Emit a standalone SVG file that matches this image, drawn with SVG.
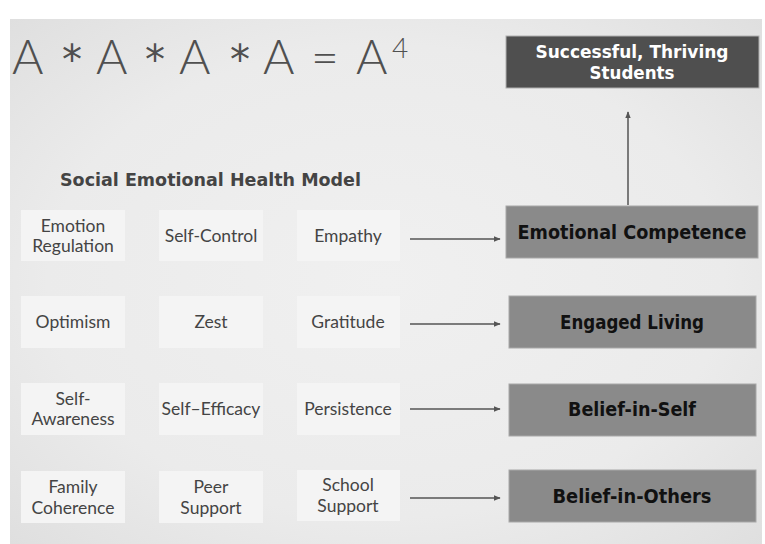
<svg xmlns="http://www.w3.org/2000/svg" width="765" height="544" viewBox="0 0 765 544">
  <defs>
    <radialGradient id="bg" cx="0.5" cy="0.5" r="0.75">
      <stop offset="0" stop-color="#f0f0f0"/>
      <stop offset="0.6" stop-color="#ebebeb"/>
      <stop offset="1" stop-color="#dddddd"/>
    </radialGradient>
    <marker id="head" viewBox="0 0 10 10" refX="9" refY="5" markerWidth="7" markerHeight="7" orient="auto" markerUnits="userSpaceOnUse">
      <path d="M0,1 L10,5 L0,9 Z" fill="#555555"/>
    </marker>
    <style>
      .trait { fill: #f4f4f4; }
      .trait-text { font-family: Lato, "Open Sans", sans-serif; font-size: 17.5px; fill: #444444; text-anchor: middle; }
      .outcome { fill: #8a8a8a; stroke: #a8a8a8; stroke-width: 1; }
      .outcome-text { font-family: "DejaVu Sans", sans-serif; font-weight: bold; font-size: 19px; fill: #111111; text-anchor: middle; }
      .goal { fill: #4f4f4f; stroke: #b0b0b0; stroke-width: 1; }
      .goal-text { font-family: "DejaVu Sans", sans-serif; font-weight: bold; font-size: 18px; fill: #ffffff; text-anchor: middle; }
      .title { font-family: "DejaVu Sans", sans-serif; font-weight: bold; font-size: 17px; fill: #444444; }
      .equation { font-family: Lato, "Open Sans", sans-serif; font-weight: 300; font-size: 48px; fill: #505050; }
      .star { font-family: "DejaVu Sans", sans-serif; font-size: 40px; fill: #505050; }
      .link { stroke: #555555; stroke-width: 1.5; fill: none; marker-end: url(#head); }
    </style>
  </defs>

  <!-- slide background -->
  <rect x="0" y="0" width="765" height="544" fill="#ffffff"/>
  <rect x="10" y="19" width="752" height="525" fill="url(#bg)"/>

  <!-- heading formula -->
  <text class="equation" y="74">
    <tspan x="12">A</tspan><tspan x="96">A</tspan><tspan x="179">A</tspan><tspan x="263">A</tspan><tspan x="311">=</tspan><tspan x="356">A</tspan><tspan x="392" dy="-16" font-size="28">4</tspan>
  </text>
  <text class="star" y="74"><tspan x="62">*</tspan><tspan x="145">*</tspan><tspan x="230">*</tspan></text>

  <text class="title" x="60" y="186" textLength="301" lengthAdjust="spacingAndGlyphs">Social Emotional Health Model</text>

  <!-- goal -->
  <g id="successful-thriving-students">
    <rect class="goal" x="506" y="36" width="253" height="52"/>
    <text class="goal-text" x="632" y="58" textLength="193" lengthAdjust="spacingAndGlyphs">Successful, Thriving</text>
    <text class="goal-text" x="632" y="79" textLength="85" lengthAdjust="spacingAndGlyphs">Students</text>
  </g>

  <!-- row 1 -->
  <g id="emotion-regulation">
    <rect class="trait" x="21" y="210" width="104" height="51"/>
    <text class="trait-text" x="73" y="232">Emotion</text>
    <text class="trait-text" x="73" y="252">Regulation</text>
  </g>
  <g id="self-control">
    <rect class="trait" x="159" y="210" width="104" height="51"/>
    <text class="trait-text" x="211" y="242">Self-Control</text>
  </g>
  <g id="empathy">
    <rect class="trait" x="297" y="210" width="103" height="51"/>
    <text class="trait-text" x="348" y="242">Empathy</text>
  </g>
  <g id="emotional-competence">
    <rect class="outcome" x="506" y="206" width="252" height="52"/>
    <text class="outcome-text" x="632" y="239" textLength="229" lengthAdjust="spacingAndGlyphs">Emotional Competence</text>
  </g>

  <!-- row 2 -->
  <g id="optimism">
    <rect class="trait" x="21" y="296" width="104" height="52"/>
    <text class="trait-text" x="73" y="328">Optimism</text>
  </g>
  <g id="zest">
    <rect class="trait" x="159" y="296" width="104" height="52"/>
    <text class="trait-text" x="211" y="328">Zest</text>
  </g>
  <g id="gratitude">
    <rect class="trait" x="297" y="296" width="103" height="52"/>
    <text class="trait-text" x="348" y="328">Gratitude</text>
  </g>
  <g id="engaged-living">
    <rect class="outcome" x="509" y="296" width="247" height="52"/>
    <text class="outcome-text" x="632" y="329" textLength="144" lengthAdjust="spacingAndGlyphs">Engaged Living</text>
  </g>

  <!-- row 3 -->
  <g id="self-awareness">
    <rect class="trait" x="21" y="383" width="104" height="52"/>
    <text class="trait-text" x="73" y="405">Self-</text>
    <text class="trait-text" x="73" y="425">Awareness</text>
  </g>
  <g id="self-efficacy">
    <rect class="trait" x="159" y="383" width="104" height="52"/>
    <text class="trait-text" x="211" y="415">Self–Efficacy</text>
  </g>
  <g id="persistence">
    <rect class="trait" x="297" y="383" width="103" height="52"/>
    <text class="trait-text" x="348" y="415">Persistence</text>
  </g>
  <g id="belief-in-self">
    <rect class="outcome" x="509" y="384" width="247" height="52"/>
    <text class="outcome-text" x="632" y="416" textLength="128" lengthAdjust="spacingAndGlyphs">Belief-in-Self</text>
  </g>

  <!-- row 4 -->
  <g id="family-coherence">
    <rect class="trait" x="21" y="471" width="104" height="52"/>
    <text class="trait-text" x="73" y="493">Family</text>
    <text class="trait-text" x="73" y="514">Coherence</text>
  </g>
  <g id="peer-support">
    <rect class="trait" x="159" y="471" width="104" height="52"/>
    <text class="trait-text" x="211" y="493">Peer</text>
    <text class="trait-text" x="211" y="514">Support</text>
  </g>
  <g id="school-support">
    <rect class="trait" x="297" y="470" width="103" height="51"/>
    <text class="trait-text" x="348" y="491">School</text>
    <text class="trait-text" x="348" y="512">Support</text>
  </g>
  <g id="belief-in-others">
    <rect class="outcome" x="509" y="470" width="247" height="52"/>
    <text class="outcome-text" x="632" y="503" textLength="159" lengthAdjust="spacingAndGlyphs">Belief-in-Others</text>
  </g>

  <!-- connectors -->
  <g id="connectors">
    <line class="link" x1="410" y1="239" x2="500" y2="239"/>
    <line class="link" x1="410" y1="324" x2="500" y2="324"/>
    <line class="link" x1="410" y1="409" x2="500" y2="409"/>
    <line class="link" x1="410" y1="498" x2="500" y2="498"/>
    <line class="link" x1="628" y1="205" x2="628" y2="112"/>
  </g>
</svg>
